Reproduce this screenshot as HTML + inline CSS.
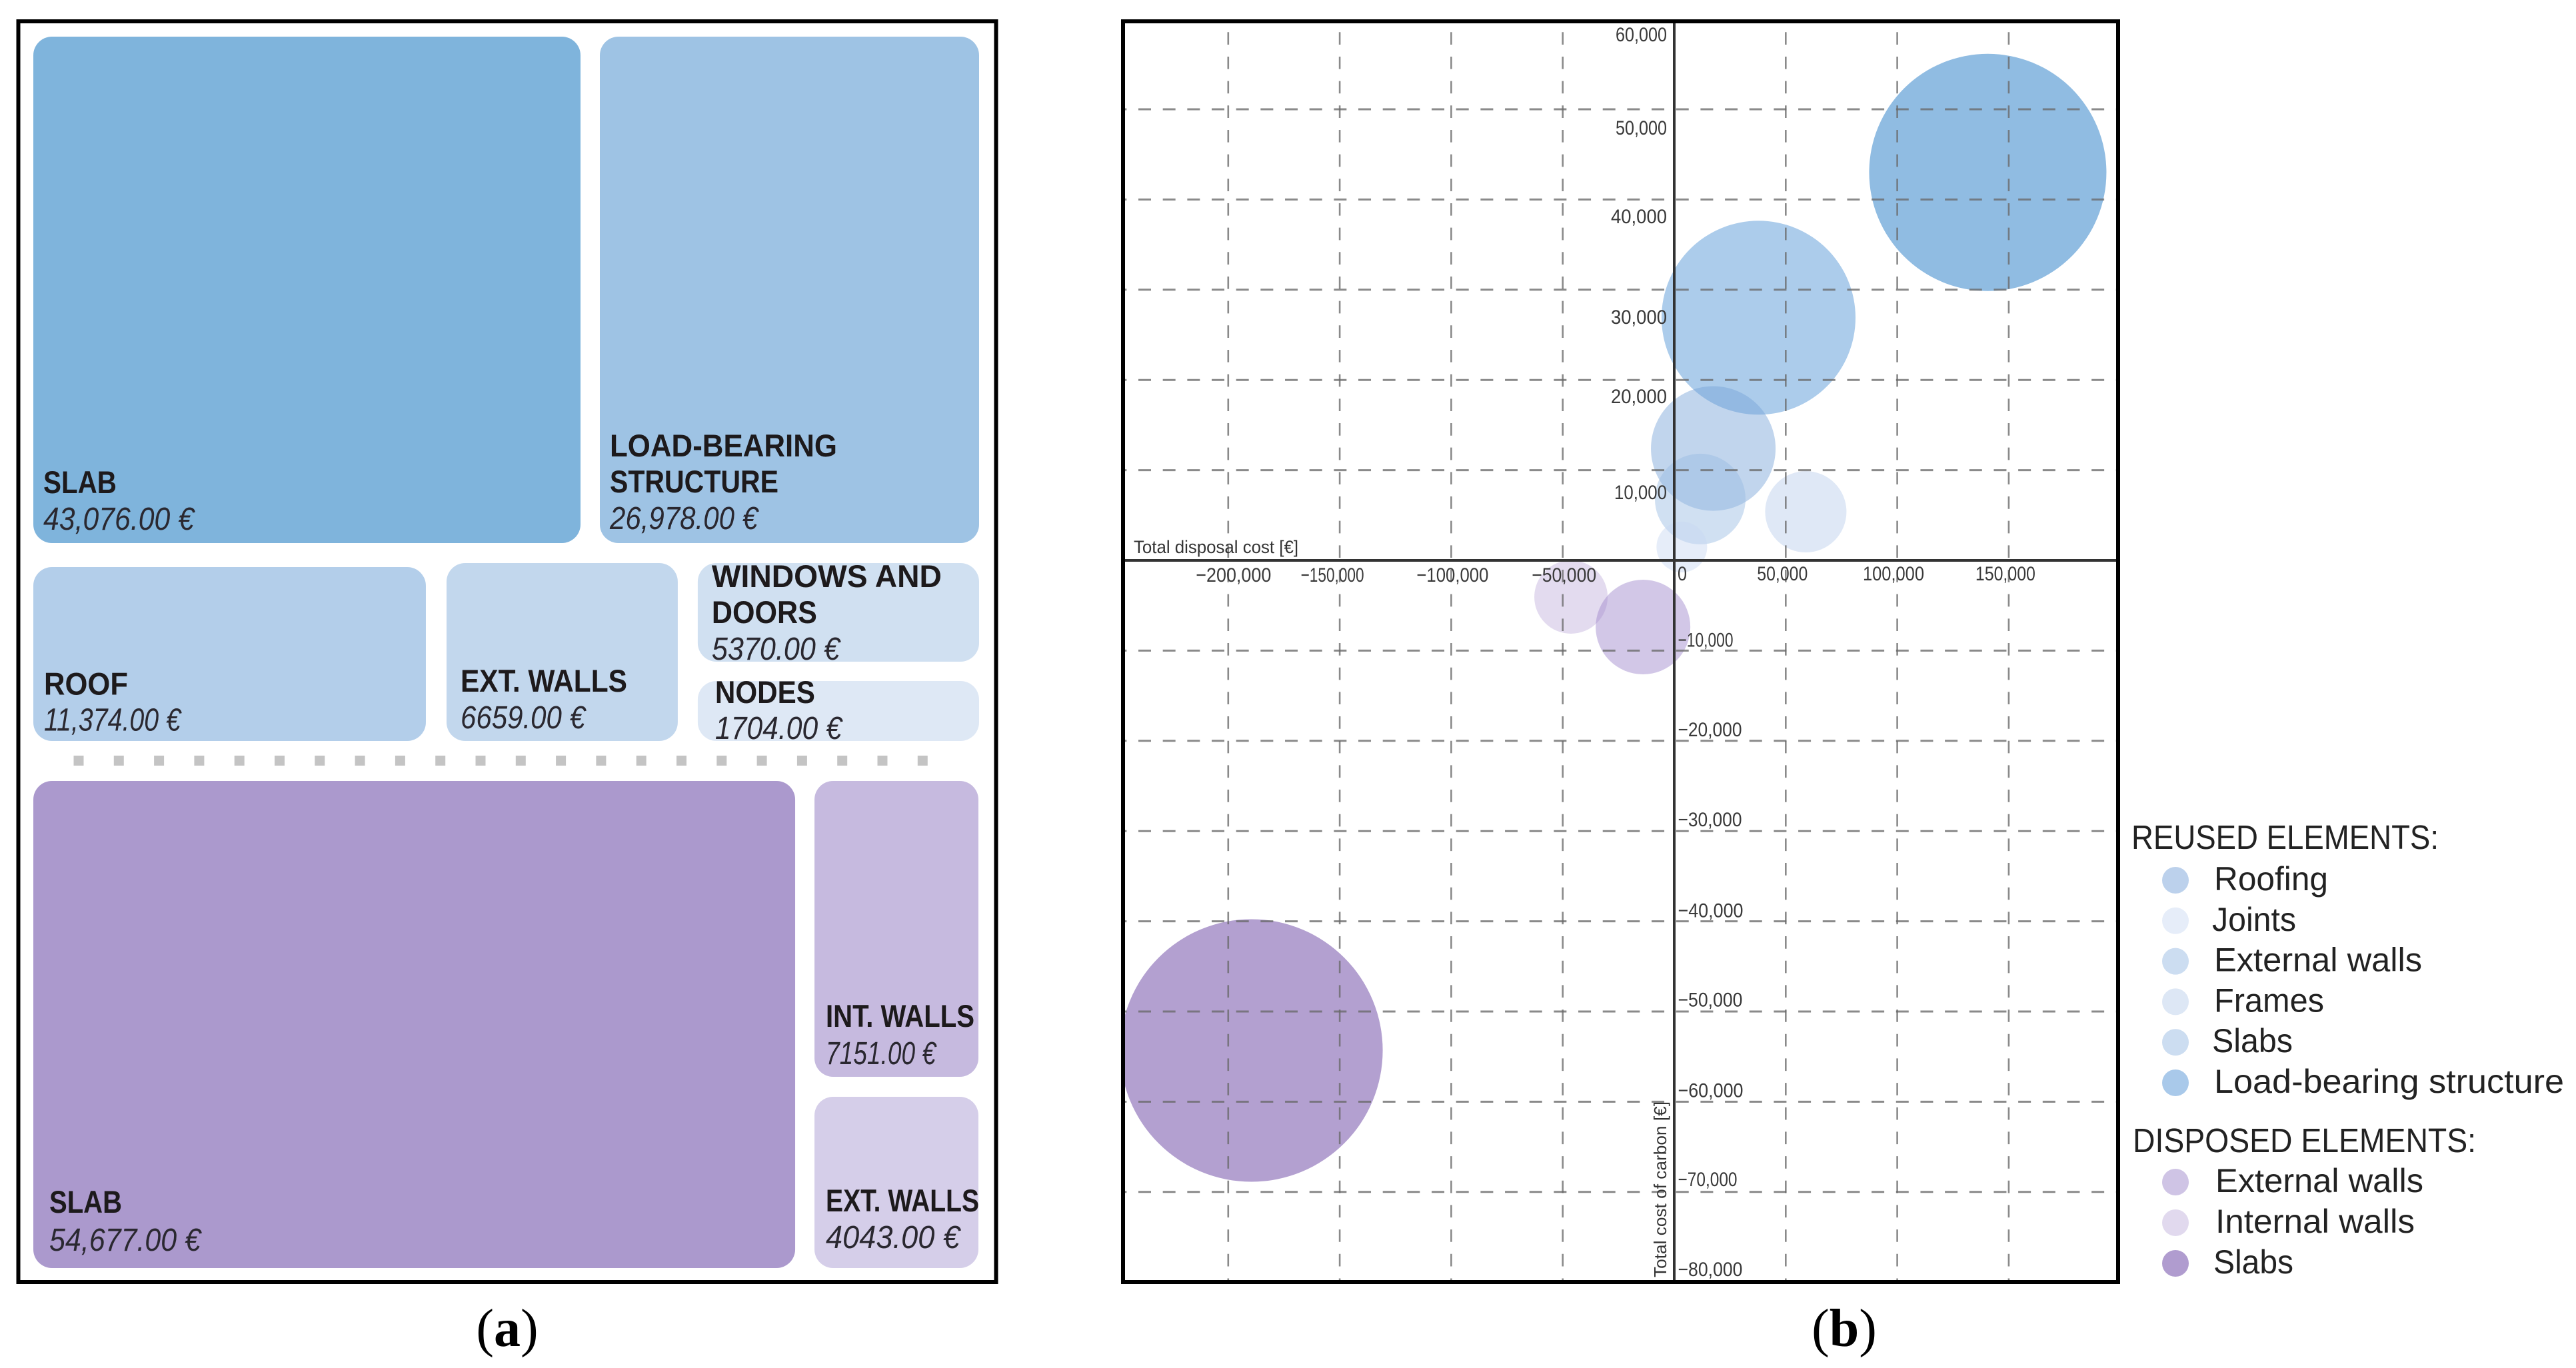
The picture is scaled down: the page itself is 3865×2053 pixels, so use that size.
<!DOCTYPE html>
<html lang="en">
<head>
<meta charset="utf-8">
<title>Cost treemap and bubble chart of reused and disposed elements</title>
<style>
html,body{margin:0;padding:0;background:#fff;}
svg{display:block;font-family:"Liberation Sans",sans-serif;}
</style>
</head>
<body>
<svg id="fig" xmlns="http://www.w3.org/2000/svg" width="3865" height="2053" viewBox="0 0 3865 2053">
  <defs>
    <clipPath id="plot-clip"><rect x="1685" y="32" width="1493" height="1892"></rect></clipPath>
  </defs>
  <rect x="0" y="0" width="3865" height="2053" fill="#fff"></rect>
  <g id="treemap"></g>
  <g id="plot"></g>
  <g id="legend"></g>
  <rect x="27.5" y="32" width="1467" height="1892" fill="none" stroke="#000" stroke-width="6"></rect>
  <rect x="1685" y="32" width="1493" height="1892" fill="none" stroke="#000" stroke-width="6"></rect>
  <text x="761" y="2020" text-anchor="middle" font-family="'Liberation Serif',serif" font-size="80" fill="#000">(<tspan font-weight="bold">a</tspan>)</text>
  <text x="2767" y="2020" text-anchor="middle" font-family="'Liberation Serif',serif" font-size="80" fill="#000">(<tspan font-weight="bold">b</tspan>)</text>
</svg>
<script>
/* ---------- treemap data ---------- */
const reusedNames = [['SLAB'], ['LOAD-BEARING', 'STRUCTURE'], ['ROOF'], ['EXT. WALLS'], ['WINDOWS AND', 'DOORS'], ['NODES']];
const reusedCosts = [43076, 26978, 11374, 6659, 5370, 1704];
const reusedAreaBias = [1, 1.1066, 0.977, 0.983, 0.922, 1.768];
const disposedNames = [['SLAB'], ['INT. WALLS'], ['EXT. WALLS']];
const disposedCosts = [54677, 7151, 4043];
const disposedAreaBias = [1, 1.042, 1.067];

/* ---------- bubble chart data ---------- */
const bubbleNames = ['internal-walls', 'external-walls-disposed', 'slabs-disposed', 'frames', 'load-bearing-structure', 'roofing', 'external-walls', 'joints', 'slabs'];
const bubbleDisposal = [-46300, -14000, -189600, 59000, 37800, 17500, 11650, 3400, 140600];
const bubbleCarbon = [-4060, -7385, -54320, 5390, 26900, 12400, 6800, 1480, 43000];
const bubbleSize = [4109, 6848, 52720, 5055, 28757, 11876, 6281, 1962, 43040];
const xTicks = [-200000, -150000, -100000, -50000, 0, 50000, 100000, 150000];
const xTickLabels = ['−200,000', '−150,000', '−100,000', '−50,000', '0', '50,000', '100,000', '150,000'];
const yTicks = [60000, 50000, 40000, 30000, 20000, 10000, -10000, -20000, -30000, -40000, -50000, -60000, -70000, -80000];
const yTickLabels = ['60,000', '50,000', '40,000', '30,000', '20,000', '10,000', '−10,000', '−20,000', '−30,000', '−40,000', '−50,000', '−60,000', '−70,000', '−80,000'];

/* ---------- styling and label layout (not data) ---------- */
const reusedColors = ['#7FB4DC', '#9EC3E4', '#B3CEEA', '#C2D7ED', '#D0E0F1', '#DEE8F5'];
const disposedColors = ['#AB99CD', '#C6BADF', '#D5CEE9'];
const reusedInsets = [[15, 75, 20], [15, 76, 21], [16, 69.5, 15.5], [21, 74, 19], [21, 58, 3], [26, 57, 3]];
const disposedInsets = [[24, 83, 26], [17, 75, 19], [17, 85, 30]];
const reusedNameWidths = [[110], [341, 253], [126], [250], [345, 158], [150]];
const reusedValueWidths = [226, 222, 205, 187, 192, 190];
const disposedNameWidths = [[109], [223], [230]];
const disposedValueWidths = [227, 165, 201];
const BUBBLE_ALPHA = 0.45;
const bubbleColors = ['#C1AFDC', '#9C83CA', '#572C97', '#B8CCEC', '#478ED3', '#76A2D8', '#97BBE3', '#C8D7F2', '#096BBF'];
const xLabelNudge = [8, -11, 2, 2, 12, -5, -5.6, -5];
const xLabelBaseline = [873, 873, 873, 873, 871, 871, 871, 871];
const xLabelWidths = [113, 95, 108, 97, 14, 76, 92, 90];
const yLabelNudge = [22.4, 27, 24.6, 40, 24, 32.4, -17, -18, -18, -17, -18.5, -18, -20, -20];
const yLabelWidths = [77, 77, 84, 84, 84, 79, 83, 96, 96, 98, 97, 98, 89, 97];
const legendReused = ['Roofing', 'Joints', 'External walls', 'Frames', 'Slabs', 'Load-bearing structure'];
const legendReusedColors = ['#BCD1EC', '#E6EDF9', '#CCDDF1', '#DDE7F5', '#CCDDF1', '#A9C9EA'];
const legendReusedWidths = [171, 126, 312, 165, 121, 525];
const legendReusedLeft = [3322, 3319, 3322, 3322, 3319, 3322];
const legendDisposed = ['External walls', 'Internal walls', 'Slabs'];
const legendDisposedColors = ['#CFC4E5', '#E1D9EE', '#B09CCF'];
const legendDisposedWidths = [312, 299, 120];
const legendDisposedLeft = [3324, 3324, 3321];

const NS = 'http://www.w3.org/2000/svg';
function make(tag, attrs, parent) {
  const el = document.createElementNS(NS, tag);
  for (const k in attrs) el.setAttribute(k, attrs[k]);
  parent.appendChild(el);
  return el;
}
function slug(s) {
  return s.toLowerCase().replace(/[^a-z0-9]+/g, '-').replace(/^-|-$/g, '');
}
function euro(v) {
  const s = Math.round(v).toString();
  const body = v >= 10000 ? s.slice(0, -3) + ',' + s.slice(-3) : s;
  return body + '.00 €';
}

/* ---------- treemap layout: slice and dice over bias-weighted costs ---------- */
function layoutReused() {
  const w = reusedCosts.map((v, i) => v * reusedAreaBias[i]);
  const row1 = w[0] + w[1];
  const stack = w[4] + w[5];
  const row2 = w[2] + w[3] + stack;
  const x0 = 50, x1 = 1469, y0 = 55, y1 = 1112;
  const h1 = (y1 - y0 - 30) * row1 / (row1 + row2);
  const ySplit = y0 + h1;
  const a = (x1 - x0 - 29) * w[0] / row1;
  const availRow2 = x1 - x0 - 61;
  const roofW = availRow2 * w[2] / row2;
  const extW = availRow2 * w[3] / row2;
  const stackX = x0 + roofW + 31 + extW + 30;
  const row2Top = ySplit + 30;
  const winH = (y1 - row2Top - 29) * w[4] / stack;
  return [
    { x: x0, y: y0, w: a, h: h1 },
    { x: x0 + a + 29, y: y0, w: x1 - x0 - a - 29, h: h1 },
    { x: x0, y: row2Top + 6, w: roofW, h: y1 - row2Top - 6 },
    { x: x0 + roofW + 31, y: row2Top, w: extW, h: y1 - row2Top },
    { x: stackX, y: row2Top, w: x1 - stackX, h: winH },
    { x: stackX, y: row2Top + winH + 29, w: x1 - stackX, h: y1 - row2Top - winH - 29 }
  ];
}
function layoutDisposed() {
  const w = disposedCosts.map((v, i) => v * disposedAreaBias[i]);
  const stack = w[1] + w[2];
  const x0 = 50, x1 = 1468, y0 = 1172, y1 = 1903;
  const a = (x1 - x0 - 29) * w[0] / (w[0] + stack);
  const sx = x0 + a + 29;
  const h = (y1 - y0 - 30) * w[1] / stack;
  return [
    { x: x0, y: y0, w: a, h: y1 - y0 },
    { x: sx, y: y0, w: x1 - sx, h: h },
    { x: sx, y: y0 + h + 30, w: x1 - sx, h: y1 - y0 - h - 30 }
  ];
}
function drawTiles(prefix, rects, names, costs, colors, insets, nameWidths, valueWidths, lineGap) {
  const root = document.getElementById('treemap');
  rects.forEach((r, i) => {
    const key = prefix + '-' + slug(names[i].join(' '));
    const rect = make('rect', { x: r.x, y: r.y, width: r.w, height: r.h, rx: 28, ry: 28, fill: colors[i] }, root);
    
    
    const bottom = r.y + r.h;
    const ins = insets[i];
    const lines = names[i];
    lines.forEach((line, j) => {
      const up = (lines.length - 1 - j) * lineGap;
      const t = make('text', {
        x: r.x + ins[0], y: bottom - ins[1] - up, 'font-size': 47, 'font-weight': 'bold', fill: '#1d1a1c',
        textLength: nameWidths[i][j], lengthAdjust: 'spacingAndGlyphs'
      }, root);
      t.textContent = line;
      
      
    });
    const val = make('text', {
      x: r.x + ins[0], y: bottom - ins[2], 'font-size': 48, 'font-style': 'italic', fill: '#2a2830',
      textLength: valueWidths[i], lengthAdjust: 'spacingAndGlyphs'
    }, root);
    val.textContent = euro(costs[i]);
    
    
  });
}
drawTiles('reused', layoutReused(), reusedNames, reusedCosts, reusedColors, reusedInsets, reusedNameWidths, reusedValueWidths, 54);
drawTiles('disposed', layoutDisposed(), disposedNames, disposedCosts, disposedColors, disposedInsets, disposedNameWidths, disposedValueWidths, 54);

/* dotted separator between the two treemap groups */
(function () {
  const root = document.getElementById('treemap');
  for (let i = 0; i < 22; i++) {
    const d = make('rect', { x: 110.5 + i * 60.3, y: 1134, width: 15, height: 15, fill: '#C4C4C4' }, root);
    
    
  }
})();

/* ---------- bubble chart ---------- */
const xScale = v => 2512 + v * 167.3 / 50000;
const yScale = v => 841 - v * 135.4 / 10000;
const rScale = v => 0.858 * Math.sqrt(v);

(function () {
  const plot = document.getElementById('plot');
  const clip = make('g', { 'clip-path': 'url(#plot-clip)' }, plot);
  
  

  bubbleNames.forEach((name, i) => {
    const c = make('circle', {
      cx: xScale(bubbleDisposal[i]), cy: yScale(bubbleCarbon[i]), r: rScale(bubbleSize[i]),
      fill: bubbleColors[i], 'fill-opacity': BUBBLE_ALPHA
    }, clip);
    
    
  });

  xTicks.forEach(v => {
    if (v === 0) return;
    const l = make('line', {
      x1: xScale(v), x2: xScale(v), y1: 32, y2: 1924, stroke: '#696969', 'stroke-opacity': 0.78, 'stroke-width': 2.6,
      'stroke-dasharray': '18.7 17.97', 'stroke-dashoffset': 20.4
    }, clip);
    
    
  });
  yTicks.forEach(v => {
    if (v === 60000 || v === -80000) return;
    const l = make('line', {
      x1: 1685, x2: 3178, y1: yScale(v), y2: yScale(v), stroke: '#696969', 'stroke-opacity': 0.78, 'stroke-width': 3,
      'stroke-dasharray': '19 17.67', 'stroke-dashoffset': 13.67
    }, clip);
    
    
  });

  const xAxis = make('line', { x1: 1685, x2: 3178, y1: yScale(0), y2: yScale(0), stroke: '#333', 'stroke-width': 4 }, plot);
  
  
  const yAxis = make('line', { x1: xScale(0), x2: xScale(0), y1: 32, y2: 1924, stroke: '#333', 'stroke-width': 4 }, plot);
  
  

  xTicks.forEach((v, i) => {
    const t = make('text', {
      x: xScale(v) + xLabelNudge[i], y: xLabelBaseline[i], 'text-anchor': 'middle', 'font-size': 30, fill: '#3a3a3a',
      textLength: xLabelWidths[i], lengthAdjust: 'spacingAndGlyphs'
    }, plot);
    t.textContent = xTickLabels[i];
    
    
  });
  yTicks.forEach((v, i) => {
    const positive = v > 0;
    const t = make('text', {
      x: positive ? 2501 : 2517.5, y: yScale(v) + yLabelNudge[i] + 11,
      'text-anchor': positive ? 'end' : 'start', 'font-size': 30, fill: '#3a3a3a',
      textLength: yLabelWidths[i], lengthAdjust: 'spacingAndGlyphs'
    }, plot);
    t.textContent = yTickLabels[i];
    
    
  });

  const xTitle = make('text', { x: 1701, y: 830, 'font-size': 27, fill: '#333', textLength: 247, lengthAdjust: 'spacingAndGlyphs' }, plot);
  xTitle.textContent = 'Total disposal cost [€]';
  
  
  const yTitle = make('text', { x: 0, y: 0, transform: 'translate(2500 1917) rotate(-90)', 'font-size': 26, fill: '#333', textLength: 264, lengthAdjust: 'spacingAndGlyphs' }, plot);
  yTitle.textContent = 'Total cost of carbon [€]';
  
  
})();

/* ---------- legend ---------- */
(function () {
  const root = document.getElementById('legend');
  function header(text, x, y, width, name) {
    const t = make('text', { x: x, y: y, 'font-size': 51, fill: '#222', textLength: width, lengthAdjust: 'spacingAndGlyphs' }, root);
    t.textContent = text;
    
    
  }
  function entries(labels, colors, widths, lefts, cy0, step, prefix) {
    labels.forEach((label, i) => {
      const cy = cy0 + i * step;
      const c = make('circle', { cx: 3264, cy: cy, r: 20, fill: colors[i] }, root);
      
      
      const t = make('text', { x: lefts[i], y: cy + 15, 'font-size': 50, fill: '#222', textLength: widths[i], lengthAdjust: 'spacingAndGlyphs' }, root);
      t.textContent = label;
      
      
    });
  }
  header('REUSED ELEMENTS:', 3198, 1274, 461, 'legend-reused-heading');
  entries(legendReused, legendReusedColors, legendReusedWidths, legendReusedLeft, 1321, 60.8, 'reused');
  header('DISPOSED ELEMENTS:', 3200, 1729, 515, 'legend-disposed-heading');
  entries(legendDisposed, legendDisposedColors, legendDisposedWidths, legendDisposedLeft, 1774, 61, 'disposed');
})();
</script>
</body>
</html>
